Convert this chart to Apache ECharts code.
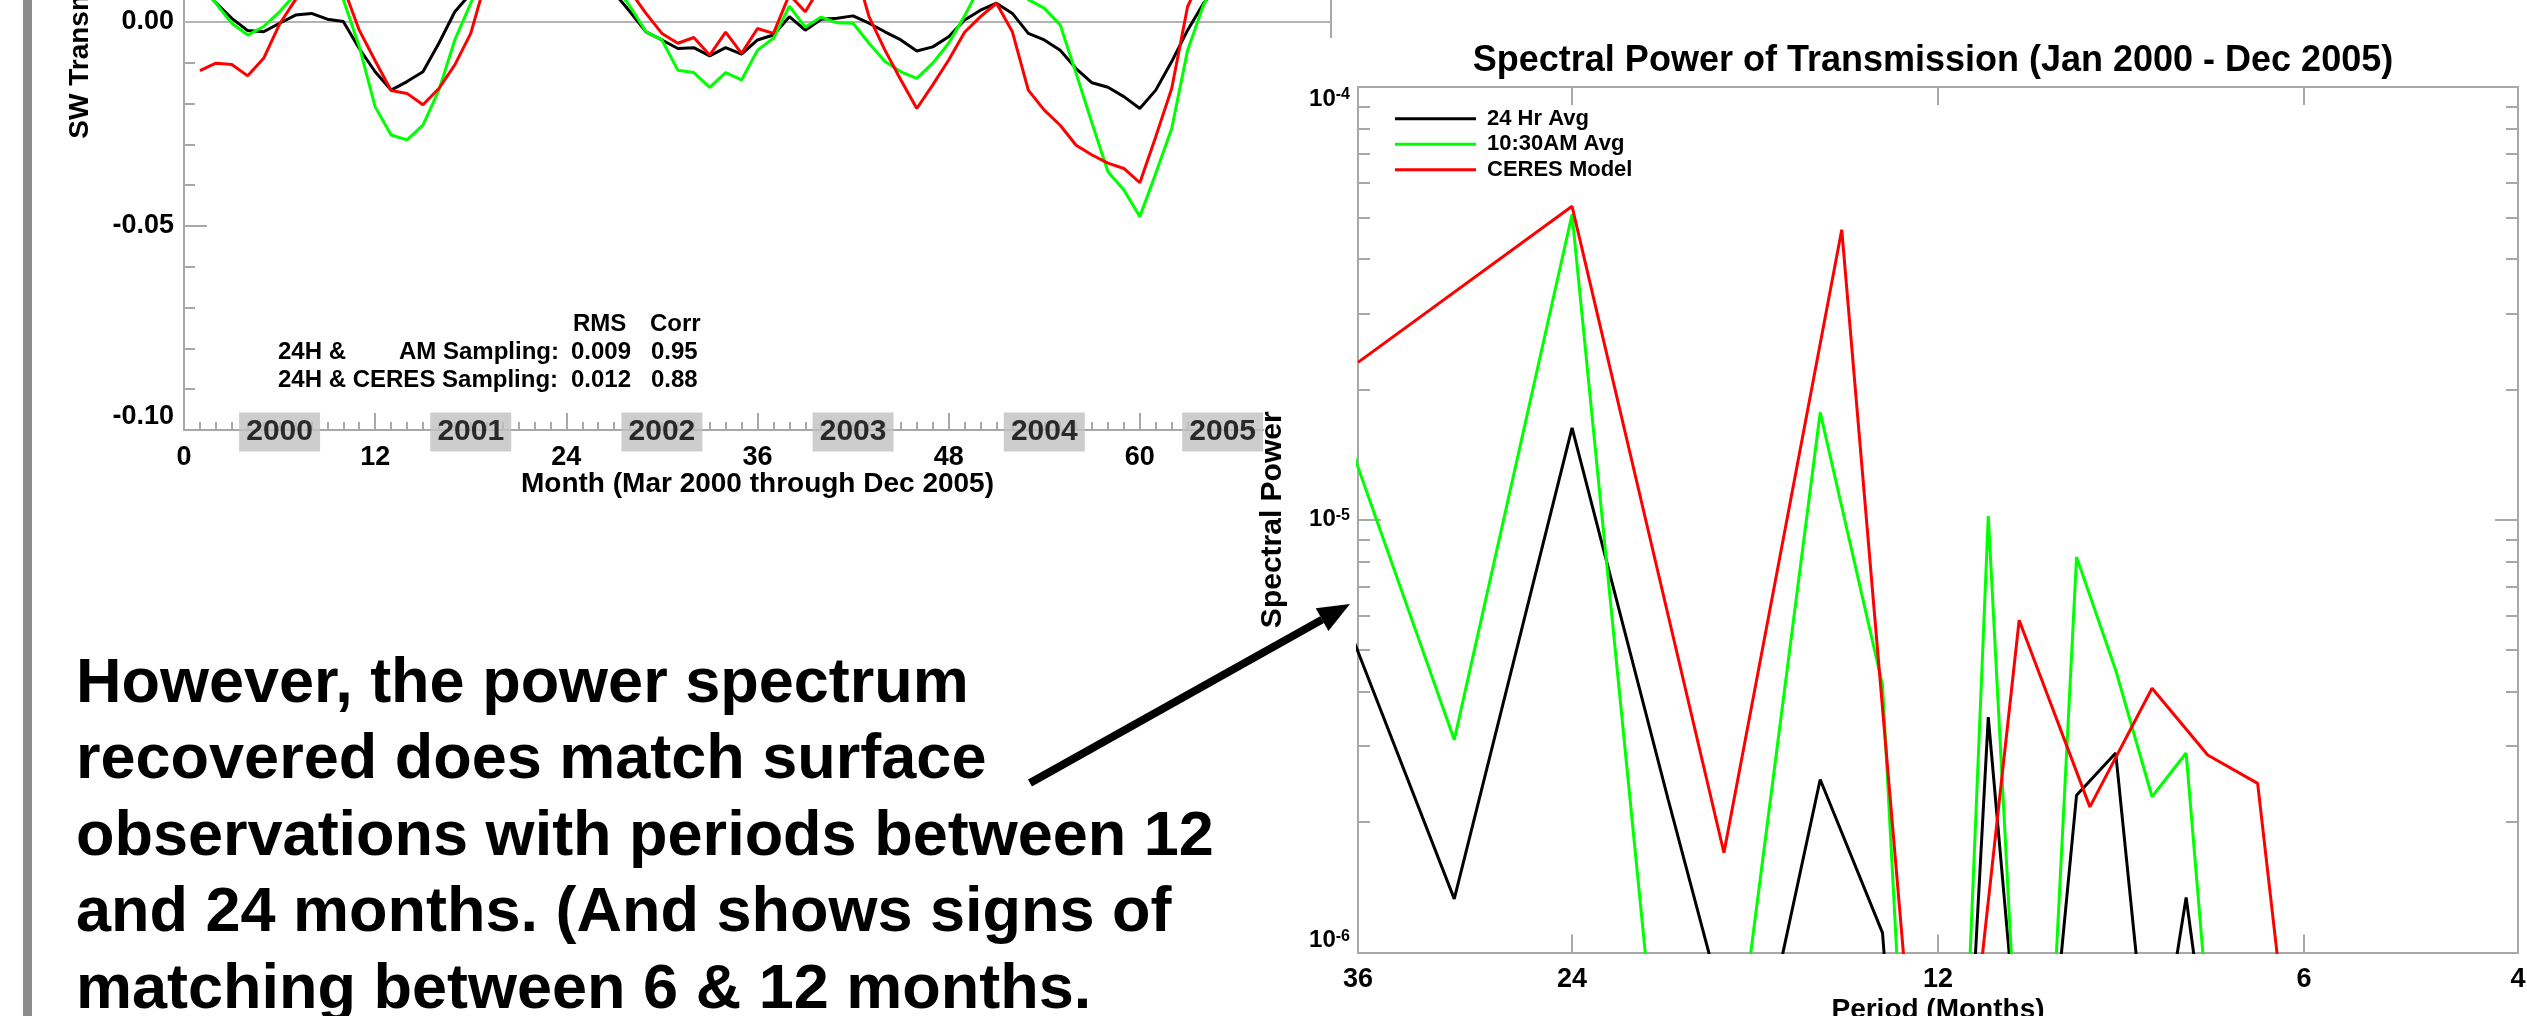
<!DOCTYPE html>
<html><head><meta charset="utf-8">
<script src="https://cdn.jsdelivr.net/npm/echarts@6/dist/echarts.min.js"></script>
<style>html,body{margin:0;padding:0;background:#fff;overflow:hidden}#c{width:2527px;height:1016px}</style>
</head><body><div id="c"></div>
<script>
// ---------- Left chart: SW transmission anomaly time series ----------
const months = Array.from({length: 70}, (_, i) => i + 1);
const sw24 = [0.009,0.0047,0.0009,-0.0021,-0.0024,-0.0003,0.0017,0.0021,0.0007,0.0001,
  -0.0065,-0.0122,-0.0167,-0.0146,-0.0122,-0.0052,0.0025,0.0070,0.012,0.016,
  0.018,0.019,0.017,0.015,0.013,0.010,0.0072,0.0025,-0.0024,-0.0044,
  -0.0065,-0.0063,-0.0083,-0.0063,-0.0079,-0.0044,-0.0032,0.0013,-0.0020,0.0007,
  0.0009,0.0015,-0.0003,-0.0024,-0.0044,-0.0071,-0.0061,-0.0036,0.0005,0.0029,
  0.0046,0.0021,-0.0028,-0.0044,-0.0069,-0.0114,-0.0149,-0.0160,-0.0183,-0.0212,
  -0.0167,-0.0097,-0.0020,0.0046,0.009,0.014,0.018,0.020,0.019,0.017];
const swAM = [0.010,0.0046,-0.0003,-0.0032,-0.0011,0.0025,0.0069,0.011,0.010,0.0055,
  -0.0060,-0.0208,-0.0277,-0.0289,-0.0253,-0.0167,-0.0044,0.0046,0.013,0.019,
  0.022,0.024,0.022,0.019,0.016,0.013,0.0092,0.0038,-0.0024,-0.0044,
  -0.0118,-0.0124,-0.0160,-0.0124,-0.0142,-0.0069,-0.0040,0.0039,-0.0013,0.0012,
  -0.0002,-0.0003,-0.0052,-0.0097,-0.0122,-0.0138,-0.0101,-0.0052,0.0015,0.009,
  0.012,0.011,0.0055,0.0034,-0.0007,-0.0126,-0.0248,-0.0367,-0.0412,-0.0477,
  -0.0371,-0.0261,-0.0069,0.0042,0.011,0.017,0.021,0.023,0.022,0.020];
const swCERES = [-0.0119,-0.0101,-0.0104,-0.0132,-0.0089,-0.0005,0.0055,0.010,0.012,0.0086,
  -0.0020,-0.0095,-0.0168,-0.0175,-0.0203,-0.0163,-0.0105,-0.0028,0.0109,0.016,
  0.019,0.021,0.020,0.018,0.016,0.013,0.010,0.0076,0.0021,-0.0028,
  -0.0052,-0.0038,-0.0081,-0.0025,-0.0077,-0.0016,-0.0028,0.0067,0.0025,0.009,
  0.013,0.015,0.0013,-0.0069,-0.0142,-0.0212,-0.0154,-0.0093,-0.0025,0.0013,
  0.0046,-0.0024,-0.0167,-0.0216,-0.0253,-0.0302,-0.0326,-0.0346,-0.0359,-0.0394,
  -0.0281,-0.0163,0.0038,0.012,0.016,0.019,0.021,0.022,0.021,0.019];
const yearLabels = ['2000','2001','2002','2003','2004','2005'];
const yearMonths = [6, 18, 30, 42, 54, 65.2];
const monthTickLabels = [0, 12, 24, 36, 48, 60];
const statsHeader = ['RMS', 'Corr'];
const statsRows = [
  ['24H &', 'AM Sampling:', '0.009', '0.95'],
  ['24H & CERES Sampling:', '', '0.012', '0.88']
];

// ---------- Right chart: spectral power ----------
const periodsHourly = [40, 30, 24, 20, 17.14, 15, 13.33, 12, 10.91, 10, 9.23, 8.57, 8, 7.5, 7.06, 6.67];
const power24 = [1.06e-5, 1.33e-6, 1.63e-5, 2.25e-6, 4.4e-7, 2.51e-6, 1.11e-6, 2.5e-8, 3.5e-6, 2.2e-7, 2.31e-6, 2.89e-6, 4.3e-7, 1.34e-6, 3.8e-7, 2e-7];
const powerAM = [3.06e-5, 3.1e-6, 5.08e-5, 2.9e-7, 9.6e-7, 1.77e-5, 4.15e-6, 1.6e-8, 1.02e-5, 9.8e-8, 8.2e-6, 4.49e-6, 2.29e-6, 2.89e-6, 3.8e-7, 2e-7];
const periodsCERES = [36, 24, 18, 14.4, 12, 10.29, 9, 8, 7.2, 6.55, 6];
const powerCERES = [2.31e-5, 5.3e-5, 1.7e-6, 4.68e-5, 1.15e-7, 5.86e-6, 2.17e-6, 4.08e-6, 2.86e-6, 2.46e-6, 2.84e-7];
const periodTickLabels = [36, 24, 12, 6, 4];
const periodInnerTicks = [24, 12, 6];
const powerMajor = [1e-6, 1e-5, 1e-4];
const powerMinor = [2e-6,3e-6,4e-6,5e-6,6e-6,7e-6,8e-6,9e-6,2e-5,3e-5,4e-5,5e-5,6e-5,7e-5,8e-5,9e-5];
const legendNames = ['24 Hr Avg', '10:30AM Avg', 'CERES Model'];
const COLORS = ['#000000', '#00ff00', '#ff0000'];

const noteLines = [
  'However, the power spectrum',
  'recovered does match surface',
  'observations with periods between 12',
  'and 24 months. (And shows signs of',
  'matching between 6 & 12 months.'
];

const FONT = '"Liberation Sans", Arial, Helvetica, sans-serif';
const AX = '#a8a8a8';

const chart = echarts.init(document.getElementById('c'), null, {renderer: 'canvas'});

function pairs(xs, ys) { return ys.map((v, i) => [xs[i], v]); }

const axLine = {show: true, onZero: false, lineStyle: {color: AX, width: 2}};
const noLine = {show: false, onZero: false};
const tickStyle = {color: AX, width: 2};

function supLabel(v) {
  const e = Math.round(Math.log10(v));
  return '{b|10}{s|' + e + '}';
}

// arrow geometry (annotation)
const arrowStart = [1030, 783], arrowTip = [1350, 604];
const adx = arrowTip[0] - arrowStart[0], ady = arrowTip[1] - arrowStart[1];
const alen = Math.hypot(adx, ady), ux = adx / alen, uy = ady / alen;
const headL = 32, headW = 13;
const bx = arrowTip[0] - headL * ux, by = arrowTip[1] - headL * uy;

const graphics = [
  {type: 'rect', z: 5, silent: true, shape: {x: 1264, y: 38, width: 1300, height: 1000}, style: {fill: '#ffffff'}},
  {type: 'rect', z: 20, silent: true, shape: {x: 23, y: 0, width: 9, height: 1016}, style: {fill: '#8c8c8c'}},
  {type: 'text', z: 20, x: 76, y: 646, style: {text: noteLines.join('\n'), font: 'bold 63px ' + FONT, lineHeight: 76.5, fill: '#000', verticalAlign: 'top', align: 'left'}},
  {type: 'line', z: 20, shape: {x1: arrowStart[0], y1: arrowStart[1], x2: bx, y2: by}, style: {stroke: '#000', lineWidth: 8}},
  {type: 'polygon', z: 20, shape: {points: [arrowTip, [bx + headW * -uy, by + headW * ux], [bx - headW * -uy, by - headW * ux]]}, style: {fill: '#000'}},
  // stats table
  {type: 'text', z: 3, x: 573, y: 324, style: {text: statsHeader[0], font: 'bold 24px ' + FONT, fill: '#000', verticalAlign: 'middle'}},
  {type: 'text', z: 3, x: 650, y: 324, style: {text: statsHeader[1], font: 'bold 24px ' + FONT, fill: '#000', verticalAlign: 'middle'}},
  {type: 'text', z: 3, x: 278, y: 352, style: {text: statsRows[0][0], font: 'bold 24px ' + FONT, fill: '#000', verticalAlign: 'middle'}},
  {type: 'text', z: 3, x: 559, y: 352, style: {text: statsRows[0][1], font: 'bold 24px ' + FONT, fill: '#000', verticalAlign: 'middle', align: 'right'}},
  {type: 'text', z: 3, x: 571, y: 352, style: {text: statsRows[0][2], font: 'bold 24px ' + FONT, fill: '#000', verticalAlign: 'middle'}},
  {type: 'text', z: 3, x: 651, y: 352, style: {text: statsRows[0][3], font: 'bold 24px ' + FONT, fill: '#000', verticalAlign: 'middle'}},
  {type: 'text', z: 3, x: 278, y: 380, style: {text: statsRows[1][0], font: 'bold 24px ' + FONT, fill: '#000', verticalAlign: 'middle'}},
  {type: 'text', z: 3, x: 571, y: 380, style: {text: statsRows[1][2], font: 'bold 24px ' + FONT, fill: '#000', verticalAlign: 'middle'}},
  {type: 'text', z: 3, x: 651, y: 380, style: {text: statsRows[1][3], font: 'bold 24px ' + FONT, fill: '#000', verticalAlign: 'middle'}}
];

const option = {
  animation: false,
  backgroundColor: '#ffffff',
  textStyle: {fontFamily: FONT},
  title: {
    text: 'Spectral Power of Transmission (Jan 2000 - Dec 2005)',
    left: 1933, top: 43, textAlign: 'center', padding: 0, z: 12,
    textStyle: {fontSize: 36, fontWeight: 'bold', color: '#000', fontFamily: FONT, lineHeight: 36}
  },
  legend: {
    data: legendNames.map(n => ({name: n, icon: 'rect'})),
    orient: 'vertical', left: 1395, top: 106, padding: 0,
    itemWidth: 81, itemHeight: 3, itemGap: 0, z: 12, selectedMode: false,
    textStyle: {fontSize: 22, fontWeight: 'bold', color: '#000', fontFamily: FONT, lineHeight: 25.5, padding: [0, 0, 0, 6]}
  },
  grid: [
    {left: 184, top: -386, width: 1147, height: 816, containLabel: false, outerBoundsMode: 'none'},
    {left: 1358, top: 87, width: 1160, height: 865.5, containLabel: false, outerBoundsMode: 'none'}
  ],
  xAxis: [
    {
      type: 'value', gridIndex: 0, min: 0, max: 72, interval: 12, position: 'bottom',
      axisLine: axLine,
      axisTick: {show: true, inside: true, length: 17, lineStyle: tickStyle},
      minorTick: {show: true, splitNumber: 12, length: 8, lineStyle: tickStyle},
      splitLine: {show: false},
      axisLabel: {margin: 14, fontSize: 27, fontWeight: 'bold', color: '#000', fontFamily: FONT,
        formatter: v => monthTickLabels.includes(v) ? String(v) : ''},
      name: 'Month (Mar 2000 through Dec 2005)', nameLocation: 'middle', nameGap: 40, nameMoveOverlap: false,
      nameTextStyle: {fontSize: 28, fontWeight: 'bold', color: '#000', fontFamily: FONT}
    },
    {
      type: 'log', gridIndex: 1, min: 4, max: 36, inverse: true, position: 'bottom', z: 10,
      axisLine: axLine,
      axisTick: {show: true, inside: true, length: 18, lineStyle: tickStyle, customValues: periodInnerTicks},
      axisLabel: {margin: 14, fontSize: 27, fontWeight: 'bold', color: '#000', fontFamily: FONT,
        customValues: periodTickLabels, formatter: v => String(Math.round(v))},
      splitLine: {show: false}, minorTick: {show: false},
      name: 'Period (Months)', nameLocation: 'middle', nameGap: 44, nameMoveOverlap: false,
      nameTextStyle: {fontSize: 28, fontWeight: 'bold', color: '#000', fontFamily: FONT}
    },
    {
      type: 'log', gridIndex: 1, min: 4, max: 36, inverse: true, position: 'top', z: 10,
      axisLine: axLine,
      axisTick: {show: true, inside: true, length: 18, lineStyle: tickStyle, customValues: periodInnerTicks},
      axisLabel: {show: false}, splitLine: {show: false}
    }
  ],
  yAxis: [
    {
      type: 'value', gridIndex: 0, min: -0.1, max: 0.1, interval: 0.05, position: 'left',
      axisLine: axLine,
      axisTick: {show: true, inside: true, length: 23, lineStyle: tickStyle},
      minorTick: {show: true, splitNumber: 5, length: 11, lineStyle: tickStyle},
      splitLine: {show: false},
      axisLabel: {margin: 10, fontSize: 27, fontWeight: 'bold', color: '#000', fontFamily: FONT,
        formatter: v => v.toFixed(2), verticalAlignMinLabel: 'bottom'},
      name: 'SW Transmission', nameLocation: 'middle', nameGap: 90, nameMoveOverlap: false,
      nameTextStyle: {fontSize: 28, fontWeight: 'bold', color: '#000', fontFamily: FONT}
    },
    {
      type: 'value', gridIndex: 0, min: -0.1, max: 0.1, interval: 0.05, position: 'right',
      axisLine: axLine,
      axisTick: {show: true, inside: true, length: 23, lineStyle: tickStyle},
      minorTick: {show: true, splitNumber: 5, length: 11, lineStyle: tickStyle},
      splitLine: {show: false}, axisLabel: {show: false}
    },
    {
      type: 'log', gridIndex: 1, min: 1e-6, max: 1e-4, position: 'left', z: 10,
      axisLine: axLine,
      axisTick: {show: true, inside: true, length: 23, lineStyle: tickStyle, customValues: powerMajor},
      axisLabel: {margin: 8, color: '#000', fontFamily: FONT, customValues: powerMajor,
        formatter: supLabel, verticalAlignMinLabel: 'bottom', verticalAlignMaxLabel: 'top',
        rich: {
          b: {fontSize: 24, fontWeight: 'bold', color: '#000', fontFamily: FONT, lineHeight: 24, verticalAlign: 'bottom'},
          s: {fontSize: 16, fontWeight: 'bold', color: '#000', fontFamily: FONT, lineHeight: 12, verticalAlign: 'top'}
        }},
      splitLine: {show: false},
      name: 'Spectral Power', nameLocation: 'middle', nameGap: 70, nameMoveOverlap: false,
      nameTextStyle: {fontSize: 30, fontWeight: 'bold', color: '#000', fontFamily: FONT}
    },
    {
      type: 'log', gridIndex: 1, min: 1e-6, max: 1e-4, position: 'left', z: 10,
      axisLine: noLine,
      axisTick: {show: true, inside: true, length: 12, lineStyle: tickStyle, customValues: powerMinor},
      axisLabel: {show: false}, splitLine: {show: false}
    },
    {
      type: 'log', gridIndex: 1, min: 1e-6, max: 1e-4, position: 'right', z: 10,
      axisLine: axLine,
      axisTick: {show: true, inside: true, length: 23, lineStyle: tickStyle, customValues: powerMajor},
      axisLabel: {show: false}, splitLine: {show: false}
    },
    {
      type: 'log', gridIndex: 1, min: 1e-6, max: 1e-4, position: 'right', z: 10,
      axisLine: noLine,
      axisTick: {show: true, inside: true, length: 12, lineStyle: tickStyle, customValues: powerMinor},
      axisLabel: {show: false}, splitLine: {show: false}
    }
  ],
  graphic: {elements: graphics},
  series: [
    {name: '24H', type: 'line', xAxisIndex: 0, yAxisIndex: 0, data: pairs(months, sw24), symbol: 'none',
      color: COLORS[0], lineStyle: {color: COLORS[0], width: 3}, clip: true, z: 2,
      markLine: {silent: true, symbol: ['none', 'none'], label: {show: false}, data: [{yAxis: 0}],
        lineStyle: {color: '#b4b4b4', width: 2, type: 'solid'}, z: 1}},
    {name: 'AM Sampling', type: 'line', xAxisIndex: 0, yAxisIndex: 0, data: pairs(months, swAM), symbol: 'none',
      color: COLORS[1], lineStyle: {color: COLORS[1], width: 3}, clip: true, z: 2},
    {name: 'CERES Sampling', type: 'line', xAxisIndex: 0, yAxisIndex: 0, data: pairs(months, swCERES), symbol: 'none',
      color: COLORS[2], lineStyle: {color: COLORS[2], width: 3}, clip: true, z: 2},
    {name: 'years', type: 'scatter', xAxisIndex: 0, yAxisIndex: 0, clip: false, z: 3,
      symbol: 'rect', symbolSize: [81, 39], symbolOffset: [0, 2],
      itemStyle: {color: '#c0c0c0'},
      label: {show: true, position: 'inside', formatter: '{b}', fontSize: 30, fontWeight: 'bold', color: '#000', fontFamily: FONT},
      data: yearMonths.map((m, i) => ({name: yearLabels[i], value: [m, -0.1]}))},
    {name: legendNames[0], type: 'line', xAxisIndex: 1, yAxisIndex: 2, data: pairs(periodsHourly, power24), symbol: 'none',
      color: COLORS[0], lineStyle: {color: COLORS[0], width: 3}, clip: true, z: 12},
    {name: legendNames[1], type: 'line', xAxisIndex: 1, yAxisIndex: 2, data: pairs(periodsHourly, powerAM), symbol: 'none',
      color: COLORS[1], lineStyle: {color: COLORS[1], width: 3}, clip: true, z: 12},
    {name: legendNames[2], type: 'line', xAxisIndex: 1, yAxisIndex: 2, data: pairs(periodsCERES, powerCERES), symbol: 'none',
      color: COLORS[2], lineStyle: {color: COLORS[2], width: 3}, clip: true, z: 12}
  ]
};
chart.setOption(option);
</script>
</body></html>
